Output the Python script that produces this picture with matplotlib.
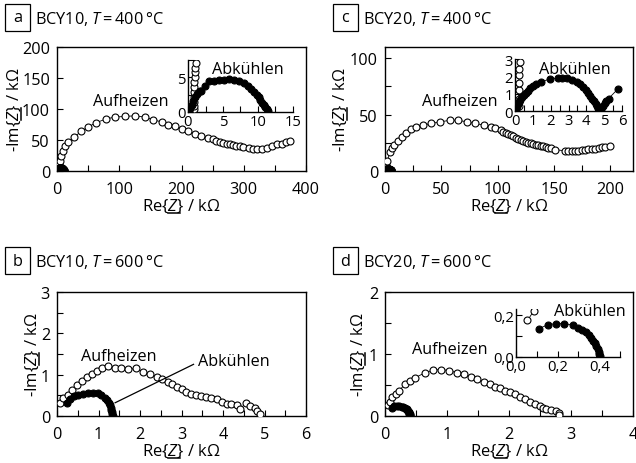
import matplotlib
matplotlib.use("Agg")
import matplotlib.pyplot as plt
from matplotlib.ticker import MultipleLocator, FuncFormatter
from matplotlib.patches import Rectangle
from matplotlib.lines import Line2D
from matplotlib.transforms import IdentityTransform

plt.rcParams['font.family'] = ['Open Sans', 'DejaVu Sans']
plt.rcParams['mathtext.fontset'] = 'custom'
plt.rcParams['mathtext.rm'] = 'Open Sans'
plt.rcParams['mathtext.it'] = 'Open Sans:italic'

FS = 11.7      # annotations, titles, tick labels
FS_LAB = 12.0  # axis labels
FS_INS = 10.7  # inset tick labels

# ---------------- impedance data (kOhm) ----------------
# (a) BCY10, 400 C
a_heat_re = [0.8, 0.85, 0.9, 0.9, 0.9, 0.9, 0.9, 0.95, 1.0, 1.0, 1.1, 1.6, 2.5, 4.3, 7, 9.6, 13, 17.7,
             28, 39, 50, 63, 79, 93, 109, 125, 141, 154, 168, 179, 189, 200, 211, 221, 232, 243,
             250, 256, 262, 267, 273, 278, 283, 288, 294, 299, 308, 315, 322, 329, 337, 345, 353,
             361, 368, 374]
a_heat_im = [0.4, 0.9, 1.5, 2.2, 2.9, 3.6, 4.3, 5.0, 5.7, 6.4, 7.1, 9, 12, 16, 24, 32, 40, 46,
             55, 64, 71, 78, 84, 87, 88, 89, 87, 83, 79, 75, 72, 68, 64, 60, 56, 53,
             51, 49, 47, 45, 44, 43, 42, 41, 40, 38.5, 37, 36, 36, 36, 37, 41, 43,
             44, 46, 49]
a_cool_re = [0.14, 0.33, 0.5, 0.7, 0.95, 1.3, 1.7, 1.9, 2.4, 3.0, 3.7, 4.4, 5.1, 5.9, 6.6, 7.3,
             8.0, 8.6, 9.0, 9.4, 9.8, 10.1, 10.3, 10.6, 10.8, 11.0, 11.3, 11.4]
a_cool_im = [0.2, 0.6, 1.0, 1.6, 2.1, 2.6, 3.0, 3.1, 3.75, 4.4, 4.5, 4.6, 4.67, 4.7, 4.67, 4.5,
             4.2, 3.75, 3.3, 2.9, 2.5, 2.1, 1.75, 1.3, 1.0, 0.75, 0.4, 0.1]

# (b) BCY10, 600 C
b_heat_re = [0.08, 0.14, 0.27, 0.37, 0.48, 0.61, 0.72, 0.84, 0.97, 1.09, 1.23, 1.39, 1.55, 1.71,
             1.9, 2.08, 2.24, 2.4, 2.54, 2.68, 2.78, 2.88, 3.0, 3.12, 3.24, 3.36, 3.48, 3.6, 3.72,
             3.85, 3.97, 4.09, 4.2, 4.33, 4.41, 4.55, 4.65, 4.77, 4.81, 4.89]
b_heat_im = [0.31, 0.44, 0.52, 0.62, 0.74, 0.85, 0.95, 1.02, 1.09, 1.15, 1.21, 1.17, 1.15, 1.13,
             1.15, 1.07, 1.01, 0.95, 0.89, 0.83, 0.77, 0.7, 0.65, 0.59, 0.54, 0.51, 0.48, 0.47,
             0.44, 0.4, 0.35, 0.3, 0.28, 0.27, 0.16, 0.32, 0.24, 0.2, 0.12, 0.04]
b_cool_re = [0.23, 0.31, 0.4, 0.51, 0.63, 0.75, 0.87, 0.99, 1.07, 1.15, 1.21, 1.25, 1.28, 1.3,
             1.31, 1.32, 1.33, 1.34]
b_cool_im = [0.32, 0.4, 0.48, 0.52, 0.54, 0.55, 0.56, 0.55, 0.5, 0.44, 0.38, 0.32, 0.26, 0.2,
             0.15, 0.1, 0.05, 0.01]

# (c) BCY20, 400 C
c_heat_re = [0.2, 0.2, 0.2, 0.22, 0.22, 0.25, 0.28, 1.2, 2.1, 4.2, 6, 8.1, 11.1, 15, 18.6, 23,
             27.6, 33.6, 41, 49, 57.6, 65, 72.6, 80, 87.6, 93.6, 98, 102.5, 104.5, 107, 109,
             111.5, 113.5, 116, 118, 120.5, 122.5, 125, 127, 129.5, 131.5, 134, 136, 138.5,
             140.5, 143, 145, 147.5, 150.5, 159.5, 162.5, 165.5, 168.5, 171.5, 174.5, 177.5,
             180.5, 183.5, 186.5, 189.5, 192.5, 195.5, 200]
c_heat_im = [0.3, 0.7, 1.2, 1.6, 2.1, 2.4, 2.85, 4.9, 8.7, 16.6, 20, 23.3, 26.7, 30.5, 34, 36.9,
             39, 40.7, 42.2, 43.6, 45, 45, 43.6, 42.2, 40.7, 39.2, 38.4, 36, 35, 34, 33,
             31.7, 30.7, 29.7, 28.6, 27.6, 26.7, 25.9, 25.1, 24.4, 23.8, 23.3, 22.8, 22.4,
             21.9, 21.5, 20.8, 20, 18.9, 18, 18, 18, 18, 18, 18.4, 18.9,
             19.2, 19.5, 19.9, 20.3, 20.9, 21.5, 22.4]
c_cool_re = [0.05, 0.08, 0.12, 0.17, 0.23, 0.3, 0.38, 0.48, 0.6, 0.72, 0.85, 1.0, 1.2, 1.45,
             1.95, 2.4, 2.65, 2.9, 3.2, 3.45, 3.65, 3.82, 3.97, 4.1, 4.22, 4.33, 4.43, 4.52,
             4.6, 4.67, 4.73, 4.78, 4.85, 4.93, 5.02, 5.12, 5.25, 5.75]
c_cool_im = [0.05, 0.15, 0.27, 0.4, 0.52, 0.65, 0.78, 0.92, 1.06, 1.18, 1.3, 1.42, 1.55, 1.67,
             1.85, 1.9, 1.9, 1.88, 1.8, 1.67, 1.53, 1.38, 1.22, 1.05, 0.88, 0.72, 0.56, 0.42,
             0.28, 0.15, 0.06, 0.02, 0.1, 0.28, 0.45, 0.6, 0.72, 1.25]

# (d) BCY20, 600 C
d_heat_re = [0.055, 0.085, 0.12, 0.17, 0.22, 0.32, 0.41, 0.49, 0.65, 0.78, 0.91, 1.04, 1.16,
             1.28, 1.39, 1.49, 1.6, 1.69, 1.78, 1.86, 1.94, 2.02, 2.1, 2.18, 2.26, 2.34, 2.42,
             2.5, 2.55, 2.6, 2.68, 2.76, 2.8, 2.81]
d_heat_im = [0.175, 0.22, 0.3, 0.35, 0.4, 0.51, 0.56, 0.62, 0.7, 0.74, 0.75, 0.73, 0.7,
             0.67, 0.63, 0.59, 0.55, 0.51, 0.47, 0.45, 0.41, 0.38, 0.35, 0.31, 0.27, 0.23, 0.19,
             0.16, 0.13, 0.11, 0.1, 0.08, 0.05, 0.01]
d_cool_re = [0.109, 0.153, 0.194, 0.232, 0.273, 0.297, 0.317, 0.335, 0.349, 0.362, 0.372,
             0.38, 0.387, 0.393, 0.398, 0.4, 0.403]
d_cool_im = [0.135, 0.155, 0.16, 0.16, 0.153, 0.14, 0.131, 0.118, 0.105, 0.092, 0.078,
             0.065, 0.052, 0.039, 0.026, 0.013, 0.003]

# ---------------- figure ----------------
W, H = 636, 464
fig = plt.figure(figsize=(W / 100, H / 100), dpi=100)


def px_axes(x0, y0, x1, y1):
    """Add axes given a pixel box measured from the top-left corner."""
    return fig.add_axes([x0 / W, 1 - y1 / H, (x1 - x0) / W, (y1 - y0) / H])


def draw_series(ax, re, im, filled, ms=5):
    ax.plot(re, im, '-', color='k', lw=0.6, marker='o', ms=ms,
            mfc='k' if filled else 'white', mec='k', mew=0.8,
            zorder=4 if filled else 3)


def style_main(ax, xlim, ylim, xmaj, xmin, ymaj, ymin, ylab_x):
    ax.set_xlim(*xlim)
    ax.set_ylim(*ylim)
    ax.xaxis.set_major_locator(MultipleLocator(xmaj))
    ax.xaxis.set_minor_locator(MultipleLocator(xmin))
    ax.yaxis.set_major_locator(MultipleLocator(ymaj))
    ax.yaxis.set_minor_locator(MultipleLocator(ymin))
    for s in ax.spines.values():
        s.set_linewidth(1.0)
    ax.tick_params(which='both', direction='in', top=False, right=False,
                   length=4, width=0.8, labelsize=FS)
    ax.tick_params(axis='x', pad=7)
    ax.tick_params(axis='y', pad=5)
    ax.set_xlabel('Re{$Z$} / k\u03a9', fontsize=FS_LAB)
    ax.set_ylabel('-Im{$Z$} / k\u03a9', fontsize=FS_LAB)
    ax.xaxis.set_label_coords(0.5, -0.21)
    ax.yaxis.set_label_coords(ylab_x, 0.5)


def style_inset(ax, xlim, ylim, xmaj, xmin, ymaj, ymin, fmt=None):
    ax.set_xlim(*xlim)
    ax.set_ylim(*ylim)
    ax.xaxis.set_major_locator(MultipleLocator(xmaj))
    ax.xaxis.set_minor_locator(MultipleLocator(xmin))
    ax.yaxis.set_major_locator(MultipleLocator(ymaj))
    ax.yaxis.set_minor_locator(MultipleLocator(ymin))
    ax.spines['top'].set_visible(False)
    ax.spines['right'].set_visible(False)
    for s in ('left', 'bottom'):
        ax.spines[s].set_linewidth(1.0)
    ax.tick_params(which='both', direction='in', top=False, right=False,
                   length=4, width=0.8, labelsize=FS_INS, pad=1.5)
    if fmt is not None:
        ax.xaxis.set_major_formatter(fmt)
        ax.yaxis.set_major_formatter(fmt)
    ax.patch.set_alpha(0)


def panel_label(letter, text, x0, y0):
    fig.patches.append(Rectangle((x0 / W, 1 - (y0 + 27) / H), 25 / W, 27 / H,
                                 transform=fig.transFigure, fill=False,
                                 ec='k', lw=0.9))
    fig.text((x0 + 12.5) / W, 1 - (y0 + 13.5) / H, letter, fontsize=FS,
             ha='center', va='center')
    fig.text((x0 + 30) / W, 1 - (y0 + 14.5) / H, text, fontsize=FS,
             ha='left', va='center')


def underline_symbol(label, prefix, rotated):
    """Draw the underline of the complex quantity Z inside an axis label."""
    r = fig.canvas.get_renderer()
    prop = label.get_fontproperties()
    bb = label.get_window_extent(r)
    w_pre, _, _ = r.get_text_width_height_descent(prefix, prop, ismath=False)
    w_z, _, _ = r.get_text_width_height_descent('$Z$', prop, ismath=True)
    _, _, d_full = r.get_text_width_height_descent(label.get_text(), prop, ismath=True)
    _, _, d_lp = r.get_text_width_height_descent('lp', prop, ismath=False)
    d = max(d_full, d_lp)
    size_px = prop.get_size_in_points() * fig.dpi / 72
    off = 0.15 * size_px
    if rotated:
        x = bb.x1 - d + off
        y0 = bb.y0 + w_pre
        xs, ys = [x, x], [y0, y0 + w_z]
    else:
        y = bb.y0 + d - off
        x0 = bb.x0 + w_pre
        xs, ys = [x0, x0 + w_z], [y, y]
    fig.add_artist(Line2D(xs, ys, transform=IdentityTransform(), color='k', lw=1.1))


comma = FuncFormatter(lambda v, p: f"{v:.1f}".replace('.', ','))

# (a)
ax_a = px_axes(57, 48, 306, 172)
draw_series(ax_a, a_heat_re, a_heat_im, False)
draw_series(ax_a, a_cool_re, a_cool_im, True)
style_main(ax_a, (0, 400), (0, 200), 100, 50, 50, 50, -0.137)
ax_a.text(118, 113, 'Aufheizen', fontsize=FS, ha='center', va='center')
ax_a.text(307, 164, 'Abkühlen', fontsize=FS, ha='center', va='center')
ins_a = px_axes(188, 61, 293, 113)
draw_series(ins_a, a_heat_re, a_heat_im, False)
draw_series(ins_a, a_cool_re, a_cool_im, True)
style_inset(ins_a, (0, 15), (0, 7.5), 5, 2.5, 5, 2.5)

# (b)
ax_b = px_axes(57, 293, 306, 417)
draw_series(ax_b, b_heat_re, b_heat_im, False)
draw_series(ax_b, b_cool_re, b_cool_im, True)
style_main(ax_b, (0, 6), (0, 3), 1, 0.5, 1, 0.5, -0.064)
ax_b.text(1.5, 1.45, 'Aufheizen', fontsize=FS, ha='center', va='center')
ax_b.text(3.4, 1.33, 'Abkühlen', fontsize=FS, ha='left', va='center')
ax_b.plot([1.4, 3.29], [0.32, 1.25], color='k', lw=0.9, zorder=5)

# (c)
ax_c = px_axes(385, 48, 633, 172)
draw_series(ax_c, c_heat_re, c_heat_im, False)
draw_series(ax_c, c_cool_re, c_cool_im, True)
style_main(ax_c, (0, 220), (0, 110), 50, 25, 50, 25, -0.145)
ax_c.text(66.5, 62, 'Aufheizen', fontsize=FS, ha='center', va='center')
ax_c.text(168.6, 90.5, 'Abkühlen', fontsize=FS, ha='center', va='center')
ins_c = px_axes(515, 60, 622, 112)
draw_series(ins_c, c_heat_re, c_heat_im, False)
draw_series(ins_c, c_cool_re, c_cool_im, True)
style_inset(ins_c, (0, 6), (0, 3), 1, 0.5, 1, 0.5)

# (d)
ax_d = px_axes(385, 293, 633, 417)
draw_series(ax_d, d_heat_re, d_heat_im, False)
draw_series(ax_d, d_cool_re, d_cool_im, True)
style_main(ax_d, (0, 4), (0, 2), 1, 0.5, 1, 0.5, -0.073)
ax_d.text(1.05, 1.08, 'Aufheizen', fontsize=FS, ha='center', va='center')
ax_d.text(3.3, 1.69, 'Abkühlen', fontsize=FS, ha='center', va='center')
ins_d = px_axes(516, 310, 620, 358)
draw_series(ins_d, d_heat_re, d_heat_im, False)
draw_series(ins_d, d_cool_re, d_cool_im, True)
style_inset(ins_d, (0, 0.5), (0, 0.23), 0.2, 0.1, 0.2, 0.1, fmt=comma)

panel_label('a', 'BCY10, $T$\u2009=\u2009400\u2009°C', 5, 5)
panel_label('c', 'BCY20, $T$\u2009=\u2009400\u2009°C', 333, 5)
panel_label('b', 'BCY10, $T$\u2009=\u2009600\u2009°C', 5, 248)
panel_label('d', 'BCY20, $T$\u2009=\u2009600\u2009°C', 333, 248)

fig.canvas.draw()
for ax in (ax_a, ax_b, ax_c, ax_d):
    underline_symbol(ax.xaxis.label, 'Re{', rotated=False)
    underline_symbol(ax.yaxis.label, '-Im{', rotated=True)

fig.savefig('out.png', dpi=100)
